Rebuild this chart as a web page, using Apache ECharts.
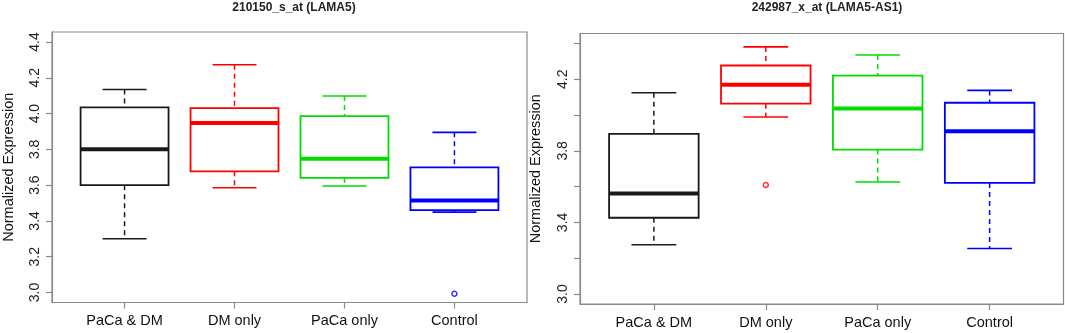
<!DOCTYPE html>
<html>
<head>
<meta charset="utf-8">
<script src="https://cdn.jsdelivr.net/npm/echarts@6/dist/echarts.min.js"></script>
<style>
  html, body { margin: 0; padding: 0; background: #fff; }
  #chart { width: 1065px; height: 333px; }
</style>
</head>
<body>
<div id="chart"></div>
<script>
// groups on the x axis (positions 1..4)
var groups = ['PaCa & DM', 'DM only', 'PaCa only', 'Control'];
var groupColors = ['#1a1a1a', '#ff0000', '#00dd00', '#0000ff'];

// [lower whisker, Q1, median, Q3, upper whisker]
var lama5Boxes = [
  [3.30, 3.60, 3.80, 4.035, 4.135],
  [3.585, 3.677, 3.947, 4.031, 4.273],
  [3.595, 3.641, 3.747, 3.986, 4.098],
  [3.449, 3.460, 3.514, 3.699, 3.895]
];
// [group index, value]
var lama5Outliers = [[3, 2.993]];

var lama5as1Boxes = [
  [3.275, 3.426, 3.561, 3.895, 4.125],
  [3.989, 4.064, 4.170, 4.277, 4.381],
  [3.626, 3.807, 4.037, 4.220, 4.336],
  [3.254, 3.621, 3.910, 4.069, 4.138]
];
var lama5as1Outliers = [[1, 3.609]];

var leftTicks = [3.0, 3.2, 3.4, 3.6, 3.8, 4.0, 4.2, 4.4];
var leftLabels = [3.0, 3.2, 3.4, 3.6, 3.8, 4.0, 4.2, 4.4];
var rightTicks = [3.0, 3.2, 3.4, 3.6, 3.8, 4.0, 4.2, 4.4];
var rightLabels = [3.0, 3.4, 3.8, 4.2];

var titles = ['210150_s_at (LAMA5)', '242987_x_at (LAMA5-AS1)'];

var myChart = echarts.init(document.getElementById('chart'));
var font = 'Liberation Sans, Arial, sans-serif';
var frameColor = '#8a8a8a';

function toBoxData(boxes) {
  return boxes.map(function (b, i) { return [i + 1].concat(b); });
}
function toOutlierData(list) {
  return list.map(function (o) {
    return {
      value: [o[0] + 1, o[1]],
      itemStyle: { borderColor: groupColors[o[0]] }
    };
  });
}

function renderBox(params, api) {
  var x = api.value(0);
  var lo = api.coord([x, api.value(1)]);
  var q1 = api.coord([x, api.value(2)]);
  var med = api.coord([x, api.value(3)]);
  var q3 = api.coord([x, api.value(4)]);
  var hi = api.coord([x, api.value(5)]);
  var half = api.size([0.4, 0])[0];
  var staple = api.size([0.2, 0])[0];
  var cx = med[0];
  var c = groupColors[params.dataIndex];
  var dashed = { stroke: c, lineWidth: 1.5, lineDash: [5, 4] };
  var solid = { stroke: c, lineWidth: 1.6 };
  return {
    type: 'group',
    children: [
      { type: 'line', shape: { x1: cx, y1: hi[1], x2: cx, y2: q3[1] }, style: dashed },
      { type: 'line', shape: { x1: cx, y1: q1[1], x2: cx, y2: lo[1] }, style: dashed },
      { type: 'line', shape: { x1: cx - staple, y1: hi[1], x2: cx + staple, y2: hi[1] }, style: solid },
      { type: 'line', shape: { x1: cx - staple, y1: lo[1], x2: cx + staple, y2: lo[1] }, style: solid },
      {
        type: 'rect',
        shape: { x: cx - half, y: q3[1], width: half * 2, height: q1[1] - q3[1] },
        style: { fill: 'none', stroke: c, lineWidth: 1.8 }
      },
      { type: 'line', shape: { x1: cx - half, y1: med[1], x2: cx + half, y2: med[1] }, style: { stroke: c, lineWidth: 4 } }
    ]
  };
}

function yAxis(gi, ticks, labels) {
  return {
    type: 'value', gridIndex: gi, min: 2.944, max: 4.456,
    name: 'Normalized Expression', nameLocation: 'middle', nameGap: gi === 0 ? 36 : 37,
    nameTextStyle: { fontFamily: font, fontSize: 14.5, color: '#111' },
    axisLine: { show: true, lineStyle: { color: frameColor, width: 1.2 } },
    axisTick: { show: true, length: 6, customValues: ticks, lineStyle: { color: frameColor, width: 1.2 } },
    axisLabel: {
      customValues: labels, rotate: 90, margin: 10,
      fontFamily: font, fontSize: 14, color: '#222',
      formatter: function (v) { return v.toFixed(1); }
    },
    splitLine: { show: false }
  };
}

function xAxis(gi) {
  return {
    type: 'value', gridIndex: gi, min: 0.34, max: 4.66,
    axisLine: { show: true, lineStyle: { color: frameColor, width: 1.2 } },
    axisTick: { show: true, length: 6, customValues: [1, 2, 3, 4], lineStyle: { color: frameColor, width: 1.2 } },
    axisLabel: {
      customValues: [1, 2, 3, 4], margin: 11,
      fontFamily: font, fontSize: 14.5, color: '#111',
      formatter: function (v) { return groups[Math.round(v) - 1]; }
    },
    splitLine: { show: false }
  };
}

var option = {
  backgroundColor: '#ffffff',
  animation: false,
  title: [
    { text: titles[0], left: 289, top: -3, textAlign: 'center',
      textStyle: { fontFamily: font, fontSize: 12, fontWeight: 'bold', color: '#222' } },
    { text: titles[1], left: 822, top: -3, textAlign: 'center',
      textStyle: { fontFamily: font, fontSize: 12, fontWeight: 'bold', color: '#222' } }
  ],
  grid: [
    { left: 51, right: 538, top: 32, bottom: 30.5, show: true, borderColor: frameColor, borderWidth: 1.2 },
    { left: 580, right: 1.5, top: 33.5, bottom: 29, show: true, borderColor: frameColor, borderWidth: 1.2 }
  ],
  xAxis: [xAxis(0), xAxis(1)],
  yAxis: [yAxis(0, leftTicks, leftLabels), yAxis(1, rightTicks, rightLabels)],
  series: [
    { type: 'custom', xAxisIndex: 0, yAxisIndex: 0, renderItem: renderBox,
      encode: { x: 0, y: [1, 2, 3, 4, 5] }, data: toBoxData(lama5Boxes), clip: false },
    { type: 'custom', xAxisIndex: 1, yAxisIndex: 1, renderItem: renderBox,
      encode: { x: 0, y: [1, 2, 3, 4, 5] }, data: toBoxData(lama5as1Boxes), clip: false },
    { type: 'scatter', xAxisIndex: 0, yAxisIndex: 0, symbol: 'circle', symbolSize: 5,
      itemStyle: { color: 'rgba(0,0,0,0)', borderWidth: 1.5 }, data: toOutlierData(lama5Outliers) },
    { type: 'scatter', xAxisIndex: 1, yAxisIndex: 1, symbol: 'circle', symbolSize: 5,
      itemStyle: { color: 'rgba(0,0,0,0)', borderWidth: 1.5 }, data: toOutlierData(lama5as1Outliers) }
  ]
};

myChart.setOption(option);
window.addEventListener('resize', function () { myChart.resize(); });
</script>
</body>
</html>
